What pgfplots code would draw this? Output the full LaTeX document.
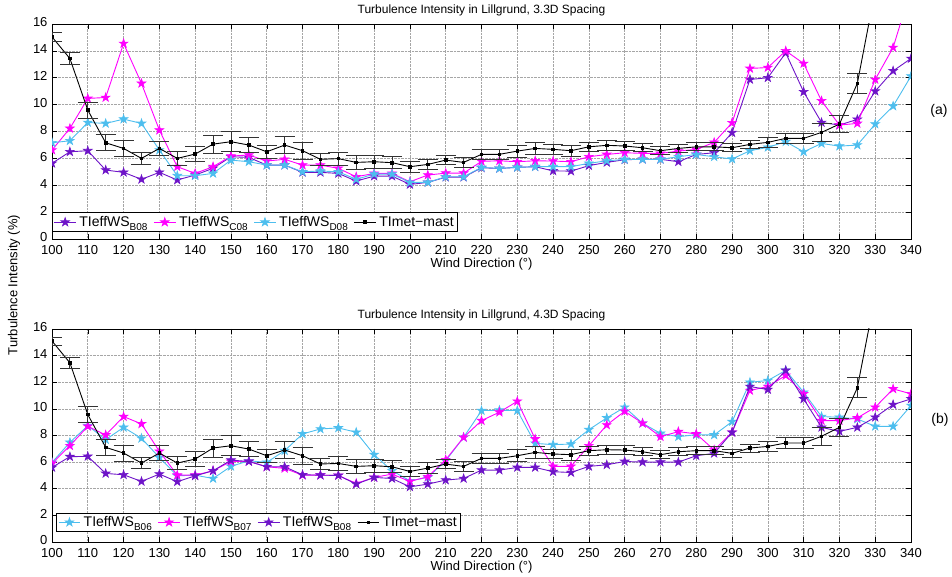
\documentclass[border=0pt]{standalone}
\usepackage{fontspec}
\setmainfont{Liberation Sans}
\usepackage{pgfplots}
\pgfplotsset{compat=1.18}
\usepackage{pgfplotstable}

\definecolor{tipurple}{RGB}{110,20,200}
\definecolor{timagenta}{RGB}{255,0,255}
\definecolor{tiblue}{RGB}{77,190,238}

% filled five-pointed star marker
\pgfdeclareplotmark{pentastar}{%
  \pgfpathmoveto{\pgfpointpolar{90}{\pgfplotmarksize}}%
  \pgfpathlineto{\pgfpointpolar{126}{0.382\pgfplotmarksize}}%
  \pgfpathlineto{\pgfpointpolar{162}{\pgfplotmarksize}}%
  \pgfpathlineto{\pgfpointpolar{198}{0.382\pgfplotmarksize}}%
  \pgfpathlineto{\pgfpointpolar{234}{\pgfplotmarksize}}%
  \pgfpathlineto{\pgfpointpolar{270}{0.382\pgfplotmarksize}}%
  \pgfpathlineto{\pgfpointpolar{306}{\pgfplotmarksize}}%
  \pgfpathlineto{\pgfpointpolar{342}{0.382\pgfplotmarksize}}%
  \pgfpathlineto{\pgfpointpolar{18}{\pgfplotmarksize}}%
  \pgfpathlineto{\pgfpointpolar{54}{0.382\pgfplotmarksize}}%
  \pgfpathclose
  \pgfusepathqfillstroke}

\newcommand\sub[1]{\raisebox{-0.5ex}{\fontsize{10}{10}\selectfont #1}}

% 3.3D spacing: turbine TI and met-mast TI with its spread
\pgfplotstableread{
deg B08 C08 D08 mast err
100 5.63 6.62 7.16 15.04 0.30
105 6.49 8.23 7.31 13.43 0.42
110 6.57 10.46 8.67 9.59 0.58
115 5.13 10.53 8.60 7.16 0.60
120 4.96 14.55 8.92 6.74 0.60
125 4.44 11.58 8.60 6.00 0.43
130 4.96 8.10 6.62 6.74 0.55
135 4.39 5.38 4.71 6.00 0.50
140 4.76 4.88 4.71 6.32 0.58
145 5.26 5.38 4.88 7.06 0.68
150 6.12 6.17 5.87 7.24 0.74
155 6.07 6.25 5.75 6.99 0.57
160 5.50 5.80 5.50 6.49 0.50
165 5.50 5.93 5.50 6.99 0.62
170 4.96 5.50 5.00 6.57 0.62
175 4.96 5.50 5.06 5.93 0.43
180 4.88 5.26 5.00 5.98 0.50
185 4.31 4.63 4.44 5.70 0.50
190 4.68 4.88 4.83 5.75 0.50
195 4.68 4.88 4.83 5.68 0.45
200 4.06 4.26 4.21 5.38 0.40
205 4.21 4.76 4.21 5.55 0.40
210 4.60 4.90 4.63 5.87 0.35
215 4.60 4.90 4.63 5.70 0.40
220 5.30 5.78 5.33 6.30 0.37
225 5.25 5.82 5.25 6.30 0.40
230 5.33 5.75 5.33 6.54 0.45
235 5.38 5.82 5.38 6.74 0.42
240 5.07 5.80 5.38 6.67 0.35
245 5.05 5.75 5.38 6.57 0.40
250 5.46 6.12 5.63 6.86 0.35
255 5.70 6.29 5.82 6.97 0.35
260 5.90 6.42 5.92 6.92 0.35
265 5.93 6.37 5.93 6.79 0.30
270 5.93 6.37 5.93 6.57 0.30
275 5.75 6.54 6.12 6.74 0.30
280 6.29 6.67 6.29 6.86 0.30
285 6.42 7.19 6.12 6.86 0.30
290 7.91 8.65 5.95 6.79 0.30
295 11.87 12.69 6.57 7.04 0.30
300 12.00 12.76 6.82 7.19 0.35
305 13.85 14.00 7.24 7.49 0.40
310 10.95 13.06 6.49 7.49 0.40
315 8.67 10.28 7.11 7.93 0.70
320 8.48 8.48 6.91 8.55 0.65
325 8.90 8.60 6.99 11.58 0.75
330 11.00 11.87 8.55 18.5 0.80
335 12.51 14.25 9.89 24.0 0.80
340 13.43 18.60 12.12 30.0 0.80
}\tiA

% 4.3D spacing
\pgfplotstableread{
deg B06 B07 B08 mast err
100 5.98 5.90 5.60 15.10 0.30
105 7.48 7.23 6.41 13.46 0.42
110 8.74 8.69 6.43 9.57 0.58
115 7.69 8.04 5.15 7.11 0.60
120 8.61 9.42 5.05 6.68 0.60
125 7.79 8.87 4.55 5.93 0.43
130 6.35 6.81 5.10 6.68 0.55
135 4.97 5.02 4.53 5.93 0.50
140 5.02 5.02 4.97 6.23 0.58
145 4.77 5.35 5.35 7.06 0.68
150 5.68 6.05 6.15 7.23 0.74
155 6.10 6.05 6.05 6.98 0.57
160 5.98 5.65 5.65 6.48 0.50
165 6.86 5.53 5.65 6.91 0.62
170 8.12 5.02 5.05 6.48 0.62
175 8.49 5.02 5.02 5.86 0.43
180 8.57 5.00 5.00 5.90 0.50
185 8.24 4.40 4.35 5.68 0.50
190 6.56 4.85 4.85 5.73 0.50
195 5.35 5.10 4.77 5.65 0.45
200 4.60 4.55 4.14 5.30 0.40
205 4.85 4.90 4.35 5.55 0.40
210 6.10 6.18 4.65 5.85 0.35
215 7.86 7.86 4.77 5.68 0.40
220 9.87 9.12 5.40 6.28 0.37
225 9.90 9.75 5.40 6.28 0.40
230 9.87 10.57 5.60 6.48 0.45
235 7.41 7.74 5.60 6.73 0.42
240 7.31 5.68 5.28 6.61 0.35
245 7.36 5.68 5.22 6.56 0.40
250 8.44 7.23 5.68 6.86 0.35
255 9.32 8.79 5.80 6.93 0.35
260 10.12 9.82 6.05 6.91 0.35
265 8.92 8.92 6.00 6.78 0.30
270 8.16 7.91 6.00 6.56 0.30
275 7.91 8.29 6.00 6.78 0.30
280 8.06 8.12 6.48 6.86 0.30
285 8.04 6.91 6.66 6.86 0.30
290 9.04 8.24 8.24 6.66 0.30
295 12.00 11.38 11.68 7.06 0.30
300 12.13 11.68 11.45 7.18 0.35
305 12.89 12.51 12.89 7.44 0.40
310 11.25 11.13 10.75 7.44 0.40
315 9.42 9.12 8.61 7.94 0.70
320 9.37 9.12 8.31 8.61 0.65
325 9.24 9.32 8.61 11.58 0.75
330 8.69 10.12 9.37 18.5 0.80
335 8.69 11.50 10.32 24.0 0.80
340 10.25 11.13 10.75 30.0 0.80
}\tiB

\pgfplotsset{
  tiaxis/.style={
    scale only axis, width=859pt,
    xmin=100, xmax=340, ymin=0, ymax=16,
    xtick={100,110,...,340}, ytick={0,2,...,16},
    grid=major, major grid style={densely dotted, black!35, line width=0.6pt},
    tick align=inside, major tick length=5pt,
    tick style={black, line width=0.5pt},
    axis line style={black, line width=0.8pt},
    ticklabel style={font=\fontsize{13}{13}\selectfont},
    xticklabel style={yshift=-3pt},
    yticklabel style={xshift=-1pt, yshift=1.5pt},
    /pgf/number format/assume math mode=true,
    xlabel={Wind Direction (°)},
    label style={font=\fontsize{13}{13}\selectfont},
    xlabel style={yshift=3.5pt},
    title style={font=\fontsize{12}{12}\selectfont, yshift=-2pt},
    clip marker paths=true,
    legend columns=4,
    legend cell align=left,
    legend style={draw=black, fill=white, line width=0.8pt,
      font=\fontsize{14}{14}\selectfont, inner sep=1.5pt,
      /tikz/every odd column/.append style={column sep=1pt},
      /tikz/every even column/.append style={column sep=4pt}},
    legend image code/.code={%
      \draw[mark repeat=2, mark phase=2, line width=0.9pt]
        plot coordinates {(0cm,0cm) (0.38cm,0cm) (0.76cm,0cm)};},
  },
  turb/.style={line width=0.9pt, mark=pentastar, mark size=4.6pt,
    mark options={solid, fill=#1, draw=#1, line width=0.6pt}, color=#1},
  mast/.style={black, line width=0.9pt, mark=square*, mark size=1.3pt,
    error bars/.cd, y dir=both, y explicit,
    error bar style={black!80, line width=0.8pt},
    error mark options={rotate=90, mark size=10pt, black!80, line width=0.8pt}},
}

\begin{document}
\begin{tikzpicture}
\useasboundingbox (0,0) rectangle (952pt,577pt);

\begin{axis}[tiaxis, height=215pt, at={(52pt,338pt)}, anchor=south west,
  title={Turbulence Intensity in Lillgrund, 3.3D Spacing},
  legend style={at={(0,0.033)}, anchor=south west}]
  \addplot[turb=tipurple] table[x=deg, y=B08] {\tiA};
  \addlegendentry{TIeffWS\sub{B08}}
  \addplot[turb=timagenta] table[x=deg, y=C08] {\tiA};
  \addlegendentry{TIeffWS\sub{C08}}
  \addplot[turb=tiblue] table[x=deg, y=D08] {\tiA};
  \addlegendentry{TIeffWS\sub{D08}}
  \addplot[mast] table[x=deg, y=mast, y error=err] {\tiA};
  \addlegendentry{TImet−mast}
\end{axis}

\begin{axis}[tiaxis, height=213pt, at={(52pt,35pt)}, anchor=south west,
  title={Turbulence Intensity in Lillgrund, 4.3D Spacing},
  legend style={at={(0.005,0.047)}, anchor=south west}]
  \addplot[turb=tiblue] table[x=deg, y=B06] {\tiB};
  \addlegendentry{TIeffWS\sub{B06}}
  \addplot[turb=timagenta] table[x=deg, y=B07] {\tiB};
  \addlegendentry{TIeffWS\sub{B07}}
  \addplot[turb=tipurple] table[x=deg, y=B08] {\tiB};
  \addlegendentry{TIeffWS\sub{B08}}
  \addplot[mast] table[x=deg, y=mast, y error=err] {\tiB};
  \addlegendentry{TImet−mast}
\end{axis}

\node[font=\fontsize{14}{14}\selectfont] at (939pt,466pt) {(a)};
\node[font=\fontsize{14}{14}\selectfont] at (940pt,157pt) {(b)};
\node[rotate=90, font=\fontsize{13}{13}\selectfont] at (14pt,292pt) {Turbulence Intensity (\%)};
\end{tikzpicture}
\end{document}
